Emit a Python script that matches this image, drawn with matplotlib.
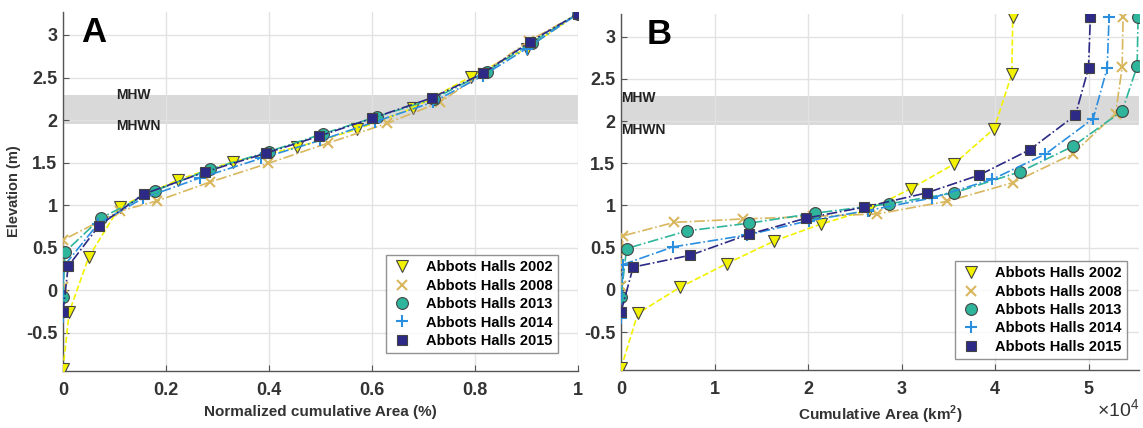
import matplotlib
matplotlib.use("Agg")
import matplotlib.pyplot as plt
from matplotlib.ticker import FuncFormatter, FixedLocator

# ---------------- data ----------------
labels = ["Abbots Halls 2002", "Abbots Halls 2008", "Abbots Halls 2013",
          "Abbots Halls 2014", "Abbots Halls 2015"]

# Panel A: normalized cumulative area vs elevation
a_x_2002 = [0, 0.012, 0.05, 0.11, 0.224, 0.33, 0.454, 0.571, 0.68, 0.792, 0.90, 1.0]
a_y_2002 = [-0.93, -0.26, 0.39, 0.98, 1.30, 1.51, 1.68, 1.89, 2.14, 2.51, 2.84, 3.25]
a_x_2008 = [0, 0, 0.11, 0.183, 0.285, 0.398, 0.515, 0.629, 0.732, 0.815, 0.905, 1.0]
a_y_2008 = [0.04, 0.59, 0.93, 1.05, 1.27, 1.49, 1.73, 1.96, 2.21, 2.55, 2.93, 3.25]
a_x_2013 = [0, 0.004, 0.074, 0.179, 0.285, 0.40, 0.505, 0.61, 0.72, 0.823, 0.91, 1.0]
a_y_2013 = [-0.08, 0.45, 0.85, 1.17, 1.42, 1.63, 1.84, 2.04, 2.25, 2.57, 2.91, 3.25]
a_x_2014 = [0, 0, 0.068, 0.155, 0.266, 0.385, 0.499, 0.606, 0.718, 0.815, 0.90, 1.0]
a_y_2014 = [-0.32, 0.27, 0.78, 1.08, 1.32, 1.55, 1.76, 1.98, 2.21, 2.52, 2.84, 3.25]
a_x_2015 = [0, 0.01, 0.07, 0.157, 0.276, 0.394, 0.497, 0.60, 0.716, 0.816, 0.907, 1.0]
a_y_2015 = [-0.26, 0.28, 0.76, 1.13, 1.39, 1.61, 1.81, 2.02, 2.26, 2.55, 2.92, 3.25]

# Panel B: cumulative area (km^2) vs elevation
b_x_2002 = [0, 1800, 6300, 11300, 16400, 21400, 26500, 31000, 35600, 39900, 41800, 41900]
b_y_2002 = [-0.93, -0.28, 0.03, 0.31, 0.58, 0.78, 0.95, 1.20, 1.49, 1.91, 2.56, 3.24]
b_x_2008 = [0, 200, 5700, 13000, 20500, 27400, 34900, 41900, 48300, 52900, 53600, 53700]
b_y_2008 = [0.04, 0.64, 0.80, 0.84, 0.87, 0.90, 1.05, 1.27, 1.61, 2.09, 2.64, 3.24]
b_x_2013 = [0, 600, 7100, 13700, 20800, 28700, 35600, 42700, 48300, 53600, 55200, 55300]
b_y_2013 = [-0.08, 0.49, 0.70, 0.79, 0.91, 1.02, 1.15, 1.40, 1.70, 2.12, 2.65, 3.24]
b_x_2014 = [0, 200, 5600, 13500, 20100, 26400, 33300, 39700, 45400, 50500, 52000, 52200]
b_y_2014 = [-0.33, 0.30, 0.51, 0.65, 0.82, 0.94, 1.09, 1.31, 1.61, 2.03, 2.63, 3.24]
b_x_2015 = [0, 1300, 7400, 13700, 19800, 26000, 32700, 38300, 43700, 48600, 50000, 50200]
b_y_2015 = [-0.26, 0.27, 0.41, 0.66, 0.85, 0.98, 1.15, 1.36, 1.66, 2.07, 2.63, 3.24]

mhw = 2.3
mhwn = 1.95

y_ticks = [-0.5, 0, 0.5, 1, 1.5, 2, 2.5, 3]
y_ticklabels = ["-0.5", "0", "0.5", "1", "1.5", "2", "2.5", "3"]
a_x_ticks = [0, 0.2, 0.4, 0.6, 0.8, 1.0]
a_x_ticklabels = ["0", "0.2", "0.4", "0.6", "0.8", "1"]
b_x_ticks = [0, 10000, 20000, 30000, 40000, 50000]

# ---------------- styles ----------------
colors = ["#F2F200", "#D8B75E", "#2FB59C", "#2B8FE0", "#2C2A86"]
markers = ["v", "x", "o", "+", "s"]
lstyles = ["--", "-.", "-.", "-.", "-."]
msizes = [8.5, 6.5, 8.5, 9, 7]

tick_color = "#333333"
plt.rcParams["font.family"] = ["Liberation Sans", "DejaVu Sans"]
plt.rcParams["mathtext.fontset"] = "custom"
plt.rcParams["mathtext.rm"] = "Liberation Sans"
plt.rcParams["mathtext.bf"] = "Liberation Sans:bold"

fig = plt.figure(figsize=(11.43, 4.28), dpi=100)
axA = fig.add_axes([63 / 1143, 1 - 371 / 428, 515 / 1143, 359 / 428])
axB = fig.add_axes([621 / 1143, 1 - 370 / 428, 518 / 1143, 356 / 428])

A_series = [(a_x_2002, a_y_2002), (a_x_2008, a_y_2008), (a_x_2013, a_y_2013),
            (a_x_2014, a_y_2014), (a_x_2015, a_y_2015)]
B_series = [(b_x_2002, b_y_2002), (b_x_2008, b_y_2008), (b_x_2013, b_y_2013),
            (b_x_2014, b_y_2014), (b_x_2015, b_y_2015)]


def draw(ax, series, anchor):
    ax.axhspan(mhwn, mhw, color="#D9D9D9", zorder=0.5, lw=0)
    for i, (xs, ys) in enumerate(series):
        m = markers[i]
        filled = m not in ("x", "+")
        ax.plot(xs, ys, linestyle=lstyles[i], color=colors[i], lw=1.2,
                marker=m, markersize=msizes[i],
                markerfacecolor=colors[i],
                markeredgecolor="#444444" if filled else colors[i],
                markeredgewidth=0.8 if filled else 1.5,
                label=labels[i], zorder=3 + i * 0.1)
    ax.set_ylim(-0.95, 3.27)
    ax.yaxis.set_major_locator(FixedLocator(y_ticks))
    ax.set_yticklabels(y_ticklabels)
    ax.grid(True, color="#E2E2E2", lw=1.0, zorder=0)
    ax.set_axisbelow(True)
    for s in ("top", "right"):
        ax.spines[s].set_visible(False)
    for s in ("left", "bottom"):
        ax.spines[s].set_color("#555555")
        ax.spines[s].set_linewidth(1.0)
    ax.tick_params(direction="in", length=4, colors="#555555", labelcolor=tick_color,
                   labelsize=13)
    ax.tick_params(axis="x", pad=8)
    ax.tick_params(axis="y", pad=4)
    leg = ax.legend(loc="lower right", bbox_to_anchor=anchor,
                    bbox_transform=ax.transAxes,
                    prop={"weight": "bold", "size": 10.5},
                    frameon=True, fancybox=False, edgecolor="#777777",
                    borderpad=0.35, labelspacing=0.3, handlelength=1.5,
                    handletextpad=0.9, borderaxespad=0.0)
    leg.get_frame().set_linewidth(1.0)
    for lh in leg.legend_handles:
        lh.set_linestyle("None")
    return leg


draw(axA, A_series, (0.961, 0.05))
draw(axB, B_series, (0.977, 0.031))

# Panel A axes
axA.set_xlim(0, 1.0)
axA.xaxis.set_major_locator(FixedLocator(a_x_ticks))
axA.set_xticklabels(a_x_ticklabels)
axA.set_xlabel("Normalized cumulative Area (%)", fontweight="bold", fontsize=11,
               color=tick_color, labelpad=4)
axA.set_ylabel("Elevation (m)", fontweight="bold", fontsize=10.5, color=tick_color,
               labelpad=4)
axA.text(0.103, mhw, "MHW", fontweight="bold", fontsize=10, va="center", ha="left",
         color="#222222")
axA.text(0.103, mhwn - 0.02, "MHWN", fontweight="bold", fontsize=10, va="center",
         ha="left", color="#222222")
axA.text(0.036, 3.03, "A", fontweight="bold", fontsize=25, va="center", ha="left",
         color="black")

# Panel B axes
axB.set_xlim(0, 55400)
axB.xaxis.set_major_locator(FixedLocator(b_x_ticks))
axB.xaxis.set_major_formatter(FuncFormatter(lambda v, p: "%d" % round(v / 1e4)))
axB.set_xlabel("Cumulative Area (km$^\\mathbf{2}$)", fontweight="bold", fontsize=11,
               color=tick_color, labelpad=4)
axB.text(1.0, -0.08, "$\\times$10$^4$", transform=axB.transAxes, fontsize=14,
         ha="right", va="top", color=tick_color)
axB.text(0, mhw - 0.03, "MHW", fontweight="bold", fontsize=10, va="center",
         ha="left", color="#222222")
axB.text(0, mhwn - 0.05, "MHWN", fontweight="bold", fontsize=10, va="center",
         ha="left", color="#222222")
axB.text(2700, 3.03, "B", fontweight="bold", fontsize=25, va="center", ha="left",
         color="black")

for ax in (axA, axB):
    for lab in ax.get_xticklabels() + ax.get_yticklabels():
        lab.set_fontweight("bold")

fig.savefig("out.png", dpi=100, facecolor="white")
